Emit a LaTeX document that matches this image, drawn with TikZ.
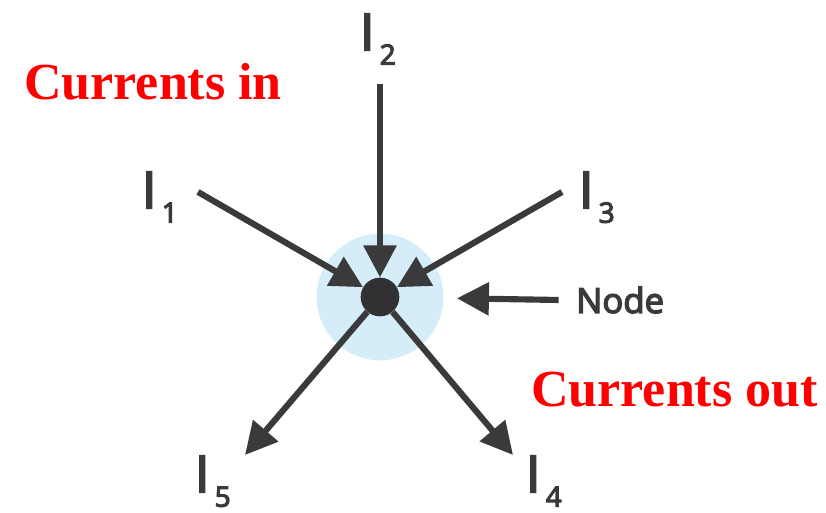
\documentclass[tikz,border=0pt]{standalone}
\usepackage{fontspec}
\usetikzlibrary{arrows.meta}
\newfontfamily\labfont[FakeBold=4]{Open Sans}
\newfontfamily\redfont{Liberation Serif}
\definecolor{ink}{RGB}{58,58,61}
\definecolor{halo}{RGB}{212,237,249}
\newcommand{\curlbl}[1]{I\hspace{4pt}\raisebox{-11pt}{\fontsize{21}{21}\selectfont #1}}
\tikzset{
  arr/.style={draw=ink, line width=4.6pt, -{Triangle[width=24pt,length=24pt]}},
  curr/.style={inner sep=0pt, anchor=base west, text=ink, font=\labfont\fontsize{38}{40}\selectfont},
  redlbl/.style={inner sep=0pt, anchor=base west, text=red, font=\redfont\bfseries\fontsize{39}{42}\selectfont}
}
\begin{document}
\begin{tikzpicture}[x=0.75pt,y=-0.75pt]
\useasboundingbox (0,0) rectangle (826,513);
\node[circle, fill=halo, minimum size=95pt, inner sep=0pt] (zone) at (380,297) {};
\node[circle, fill=ink!85!black, minimum size=29pt, inner sep=0pt] (dot) at (380,297) {};
\node[curr] (i1) at (142,208) {\curlbl{1}};
\node[curr] (i2) at (360,50) {\curlbl{2}};
\node[curr] (i3) at (579,208) {\curlbl{3}};
\node[curr] (i4) at (526,492) {\curlbl{4}};
\node[curr] (i5) at (195,492) {\curlbl{5}};
\node[inner sep=0pt, anchor=base west, text=ink, font=\labfont\fontsize{26}{28}\selectfont] (nodelbl) at (576,313) {Node};
\node[redlbl] (cin) at (24,100) {Currents in};
\node[redlbl] (cout) at (531,407) {Currents out};
\coordinate (s1) at (198,192);
\coordinate (s2) at (380,84);
\coordinate (s3) at (562,192);
\coordinate (t4) at (513,455);
\coordinate (t5) at (245,455);
\draw[arr] (s1) -- (dot);
\draw[arr] (s2) -- (dot);
\draw[arr] (s3) -- (dot);
\draw[arr] (dot) -- (t4);
\draw[arr] (dot) -- (t5);
\draw[arr, shorten >=10pt] ([xshift=-13pt]nodelbl.west) -- (zone);
\end{tikzpicture}
\end{document}
